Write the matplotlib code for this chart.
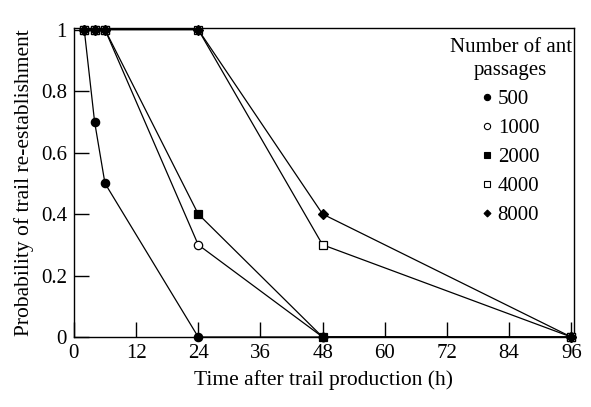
import matplotlib.pyplot as plt
from matplotlib.lines import Line2D

plt.rcParams['font.family'] = ['Liberation Serif', 'DejaVu Serif']

# hours after trail production
times = [2, 4, 6, 24, 48, 96]

p500 = [1, 0.7, 0.5, 0, 0, 0]
p1000 = [1, 1, 1, 0.3, 0, 0]
p2000 = [1, 1, 1, 0.4, 0, 0]
p4000 = [1, 1, 1, 1, 0.3, 0]
p8000 = [1, 1, 1, 1, 0.4, 0]

labels = ['500', '1000', '2000', '4000', '8000']
series = [p500, p1000, p2000, p4000, p8000]
markers = ['o', 'o', 's', 's', 'D']
faces = ['black', 'white', 'black', 'white', 'black']
sizes = [6, 6, 6, 6, 5]

fig = plt.figure(figsize=(5.91, 4.07), dpi=100)
ax = fig.add_axes([0.125, 0.172, 0.846, 0.759])

for vals, m, fc, ms in zip(series, markers, faces, sizes):
    ax.plot(times, vals, color='black', linewidth=0.9, marker=m,
            markerfacecolor=fc, markeredgecolor='black', markersize=ms,
            markeredgewidth=0.9, clip_on=False, zorder=3)

ax.set_xlim(0, 96.5)
ax.set_ylim(0, 1.005)
ax.set_xticks([0, 12, 24, 36, 48, 60, 72, 84, 96])
ax.set_yticks([0, 0.2, 0.4, 0.6, 0.8, 1])
ax.set_yticklabels(['0', '0.2', '0.4', '0.6', '0.8', '1'])
ax.tick_params(direction='in', length=11, width=1, labelsize=15, pad=5)
for s in ax.spines.values():
    s.set_linewidth(1)

ax.set_xlabel('Time after trail production (h)', fontsize=15.5, labelpad=5)
ax.set_ylabel('Probability of trail re-establishment', fontsize=15.5, labelpad=5)

handles = [Line2D([], [], linestyle='none', marker=m, markerfacecolor=fc,
                  markeredgecolor='black', markersize=ms - 1.5, markeredgewidth=0.8)
           for m, fc, ms in zip(markers, faces, sizes)]
leg = ax.legend(handles, labels, title='Number of ant\npassages', loc='upper right',
                frameon=False, fontsize=15, title_fontsize=15, handlelength=0.5,
                handletextpad=0.25, labelspacing=0.45, borderaxespad=0.0,
                borderpad=0.1, bbox_to_anchor=(1.0, 0.975))
leg._legend_box.align = 'center'
leg.get_title().set_multialignment('center')
leg.get_title().set_linespacing(1.3)

plt.savefig('out.png', dpi=100)
